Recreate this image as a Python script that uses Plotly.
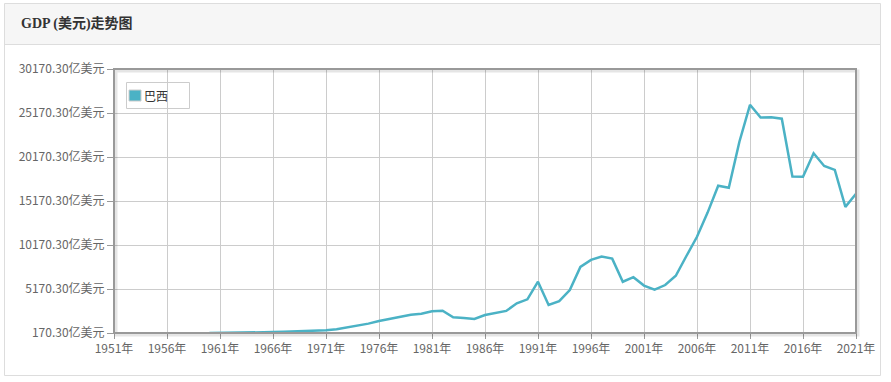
import plotly.graph_objects as go

W, H = 891, 382

years = list(range(1960, 2022))
gdp = [170.3, 176.0, 199.3, 230.2, 212.1, 217.9, 270.6, 305.9, 338.8, 374.6,
       423.3, 492.0, 585.4, 792.8, 1051.4, 1237.1, 1526.8, 1761.7, 2008.0, 2249.7,
       2350.2, 2635.6, 2700.0, 1950.0, 1880.0, 1770.0, 2210.0, 2480.0, 2680.0, 3550.0,
       4000.0, 6000.0, 3350.0, 3780.0, 5055.0, 7680.0, 8480.0, 8850.0, 8620.0, 5994.0,
       6510.0, 5560.0, 5100.0, 5620.0, 6670.0, 8920.0, 11100.0, 13850.0, 16900.0, 16680.0,
       21900.0, 26100.0, 24650.0, 24700.0, 24520.0, 17960.0, 17920.0, 20600.0, 19150.0, 18710.0,
       14500.0, 15980.0]
series_name = "巴西"
title_text = "GDP (美元)走势图"
x_ticks = list(range(1951, 2022, 5))
x_ticktext = [f"{y}年" for y in x_ticks]
y_ticks = [170.30 + 5000 * i for i in range(7)]
y_ticktext = [f"{v:.2f}亿美元" for v in y_ticks]

# plot area in pixels
L, R, T, B = 114, 856, 69, 333
def px(x): return x / W
def py(y): return 1 - y / H

LINE = "#4bb2c5"
CJK = "Noto Sans CJK SC, Noto Sans, sans-serif"

fig = go.Figure()
fig.add_trace(go.Scatter(x=years, y=gdp, mode="lines", name=series_name,
                         line=dict(color=LINE, width=2.5), showlegend=False,
                         hoverinfo="x+y"))

shapes = [
    # outer panel
    dict(type="rect", xref="paper", yref="paper", x0=px(4.5), x1=px(880.5), y0=py(375.5), y1=py(3.5),
         line=dict(color="#dddddd", width=1), fillcolor="white", layer="below"),
    # header
    dict(type="rect", xref="paper", yref="paper", x0=px(5), x1=px(880), y0=py(44), y1=py(4),
         line=dict(width=0), fillcolor="#f6f6f6", layer="below"),
    dict(type="line", xref="paper", yref="paper", x0=px(5), x1=px(880), y0=py(44.5), y1=py(44.5),
         line=dict(color="#dddddd", width=1), layer="below"),
    # plot shadow
    dict(type="rect", xref="paper", yref="paper", x0=px(L + 2), x1=px(R + 2), y0=py(B + 2), y1=py(T + 2),
         line=dict(color="rgba(0,0,0,0.10)", width=3), layer="above"),
    # plot border
    dict(type="rect", xref="paper", yref="paper", x0=px(L), x1=px(R), y0=py(B), y1=py(T),
         line=dict(color="#999999", width=2), layer="above"),
    # legend box
    dict(type="rect", xref="paper", yref="paper", x0=px(126.5), x1=px(189.5), y0=py(108.5), y1=py(82.5),
         line=dict(color="#cccccc", width=1), fillcolor="rgba(255,255,255,0)", layer="above"),
    dict(type="rect", xref="paper", yref="paper", x0=px(129), x1=px(141), y0=py(101), y1=py(90),
         line=dict(color="#cccccc", width=1), fillcolor=LINE, layer="above"),
]

annotations = [
    dict(text="<b>" + title_text + "</b>", xref="paper", yref="paper", x=px(19), y=py(24),
         xanchor="left", yanchor="middle", showarrow=False,
         font=dict(family="Liberation Serif, Noto Sans CJK SC, serif", size=14, color="#333333")),
    dict(text=series_name, xref="paper", yref="paper", x=px(142), y=py(95.5),
         xanchor="left", yanchor="middle", showarrow=False,
         font=dict(family=CJK, size=12, color="#333333")),
]

fig.update_layout(
    width=W, height=H,
    margin=dict(l=0, r=0, t=0, b=0, autoexpand=False),
    paper_bgcolor="white",
    plot_bgcolor="#fffdf6",
    shapes=shapes,
    annotations=annotations,
    showlegend=False,
    xaxis=dict(domain=[px(L), px(R)], range=[1951, 2021], tickmode="array",
               tickvals=x_ticks, ticktext=x_ticktext, showgrid=True, gridcolor="#cccccc",
               gridwidth=1, zeroline=False, ticks="outside", ticklen=5, tickcolor="#999999",
               tickfont=dict(family=CJK, size=12, color="#666666"), showline=False,
               fixedrange=True, automargin=False),
    yaxis=dict(domain=[py(B), py(T)], range=[170.30, 30170.30], tickmode="array",
               tickvals=y_ticks, ticktext=y_ticktext, showgrid=True, gridcolor="#cccccc",
               gridwidth=1, zeroline=False, ticks="outside", ticklen=6, tickcolor="#999999",
               tickfont=dict(family=CJK, size=12, color="#666666"), showline=False,
               fixedrange=True, automargin=False),
)

fig.write_html("out.html", config={"displayModeBar": False},
               post_script="document.body.style.margin='0';document.body.style.overflow='hidden';")
